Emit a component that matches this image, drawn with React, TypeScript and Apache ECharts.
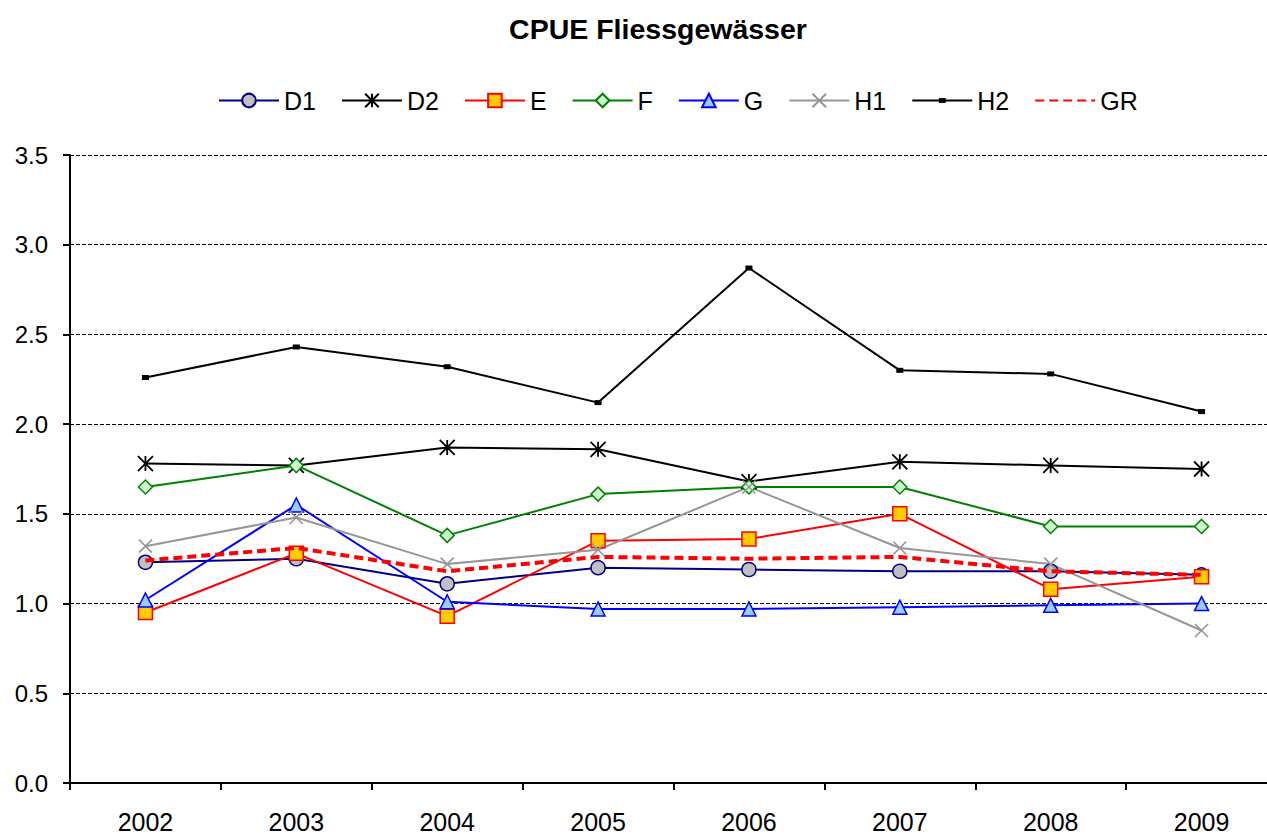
import React, { useEffect, useRef } from "react";
import * as echarts from "echarts";

const years = ["2002", "2003", "2004", "2005", "2006", "2007", "2008", "2009"];
const yTicks = [0, 0.5, 1, 1.5, 2, 2.5, 3, 3.5];

const d1 = [1.23, 1.25, 1.11, 1.2, 1.19, 1.18, 1.18, 1.16];
const d2 = [1.78, 1.77, 1.87, 1.86, 1.68, 1.79, 1.77, 1.75];
const e = [0.95, 1.28, 0.93, 1.35, 1.36, 1.5, 1.08, 1.15];
const f = [1.65, 1.77, 1.38, 1.61, 1.65, 1.65, 1.43, 1.43];
const g = [1.02, 1.55, 1.01, 0.97, 0.97, 0.98, 0.99, 1.0];
const h1 = [1.32, 1.48, 1.22, 1.3, 1.65, 1.31, 1.22, 0.85];
const h2 = [2.26, 2.43, 2.32, 2.12, 2.87, 2.3, 2.28, 2.07];
const gr = [1.24, 1.31, 1.18, 1.26, 1.25, 1.26, 1.18, 1.16];

const FONT = "'Liberation Sans', Arial, sans-serif";

export default function App() {
  const ref = useRef<HTMLDivElement>(null);
  useEffect(() => {
    document.body.style.margin = "0";
    if (!ref.current) return;
    const chart = echarts.init(ref.current, undefined, { renderer: "svg" });
    const line = (
      name: string,
      data: number[],
      lineColor: string,
      symbol: string,
      symbolSize: number | number[],
      fill: string,
      border: string,
      borderWidth: number,
      z: number
    ) => ({
      name,
      type: "line",
      data,
      symbol,
      symbolSize,
      z,
      lineStyle: { color: lineColor, width: 2 },
      itemStyle: { color: fill, borderColor: border, borderWidth },
      emphasis: { disabled: true },
    });
    chart.setOption({
      animation: false,
      textStyle: { fontFamily: FONT },
      title: {
        text: "CPUE Fliessgewässer",
        left: 653,
        top: 9,
        textAlign: "center",
        textStyle: { fontFamily: FONT, fontSize: 28.5, fontWeight: "bold", color: "#000" },
      },
      legend: {
        left: 213,
        top: 83,
        itemWidth: 60,
        itemHeight: 17,
        itemGap: 25,
        textStyle: { fontFamily: FONT, fontSize: 25, color: "#000" },
        data: ["D1", "D2", "E", "F", "G", "H1", "H2", "GR"],
      },
      grid: { left: 70, top: 155, width: 1207, height: 630, containLabel: false },
      xAxis: {
        type: "category",
        data: years,
        boundaryGap: true,
        axisLine: { lineStyle: { color: "#000", width: 2 } },
        axisTick: { show: true, interval: 0, length: 7, lineStyle: { color: "#000", width: 2 } },
        axisLabel: { fontFamily: FONT, fontSize: 25, color: "#000", margin: 26, interval: 0 },
        splitLine: { show: false },
      },
      yAxis: {
        type: "value",
        min: yTicks[0],
        max: yTicks[yTicks.length - 1],
        interval: 0.5,
        axisLine: { show: true, lineStyle: { color: "#000", width: 2 } },
        axisTick: { show: true, length: 7, lineStyle: { color: "#000", width: 2 } },
        axisLabel: {
          fontFamily: FONT,
          fontSize: 24,
          color: "#000",
          margin: 22,
          formatter: (v: number) => v.toFixed(1),
        },
        splitLine: { show: true, lineStyle: { color: "#000", width: 1, type: [4, 2] } },
      },
      series: [
        line("D1", d1, "#000080", "circle", 14, "#C0C0C0", "#000080", 1.5, 2),
        line("D2", d2, "#000000", "path://M0,0L10,10M10,0L0,10M5,0L5,10", 15, "none", "#000000", 1.8, 2),
        line("E", e, "#FF0000", "rect", 14, "#FFCC00", "#FF0000", 1.5, 2),
        line("F", f, "#008000", "diamond", 14, "#CCFFCC", "#008000", 1.5, 2),
        line("G", g, "#0000FF", "triangle", 14, "#99CCFF", "#0000FF", 1.5, 2),
        line("H1", h1, "#969696", "path://M0,0L10,10M10,0L0,10", 13, "none", "#969696", 1.6, 2),
        line("H2", h2, "#000000", "path://M0,0M14,14M3.5,4.5L10.5,4.5L10.5,9.5L3.5,9.5Z", 14, "#000000", "#000000", 0, 2),
        {
          name: "GR",
          type: "line",
          data: gr,
          symbol: "none",
          z: 3,
          lineStyle: { color: "#FF0000", width: 4, type: [9, 5] },
          itemStyle: { color: "transparent", borderColor: "transparent", borderWidth: 0 },
          emphasis: { disabled: true },
        },
      ],
    });
    return () => chart.dispose();
  }, []);
  return (
    <div style={{ width: 1267, height: 834, overflow: "hidden", position: "relative" }}>
      <div ref={ref} style={{ width: 1300, height: 834 }} />
    </div>
  );
}
